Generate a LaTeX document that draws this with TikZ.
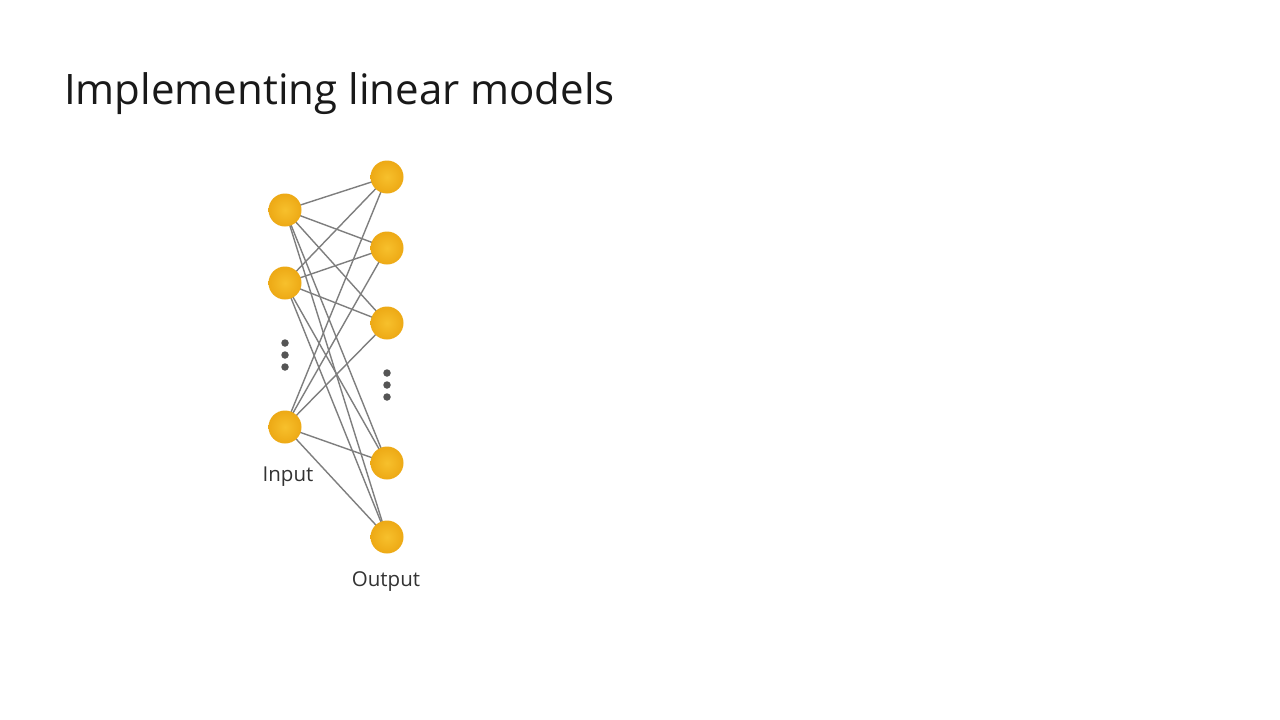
\documentclass[tikz,border=0pt]{standalone}
\usepackage{fontspec}
\setmainfont{Open Sans}
\begin{document}
\begin{tikzpicture}[x=1pt,y=-1pt,
  neuron/.style={circle,minimum size=33pt,inner sep=0pt,shade,inner color=ncolA,outer color=ncolB},
  conn/.style={draw=linegray,line width=1.4pt},
  dotmark/.style={circle,fill=dotgray,minimum size=7.5pt,inner sep=0pt},
  lbl/.style={text=labelgray,font=\fontsize{20.5}{24}\selectfont}]
\definecolor{ncolA}{HTML}{F7C02C}
\definecolor{ncolB}{HTML}{EDA915}
\definecolor{linegray}{HTML}{7E7E7E}
\definecolor{dotgray}{HTML}{555555}
\definecolor{labelgray}{HTML}{333333}
\useasboundingbox[fill=white] (0,0) rectangle (1280,720);
\node[anchor=base west,inner sep=0pt,font=\fontsize{42}{50}\selectfont,text=black!90] (title) at (64,104) {Implementing linear models};
% inputs
\coordinate (i1) at (285,210);
\coordinate (i2) at (285,283);
\coordinate (i3) at (285,427);
% outputs
\coordinate (o1) at (387,177);
\coordinate (o2) at (387,248);
\coordinate (o3) at (387,323);
\coordinate (o4) at (387,463);
\coordinate (o5) at (387,537);
\foreach \i in {1,2,3}{\foreach \o in {1,...,5}{\draw[conn] (i\i) -- (o\o);}}
\foreach \i in {1,2,3}{\node[neuron] (in\i) at (i\i) {};}
\foreach \o in {1,...,5}{\node[neuron] (out\o) at (o\o) {};}
\foreach \y [count=\k] in {343,355,367}{\node[dotmark] (da\k) at (285,\y) {};}
\foreach \y [count=\k] in {373,385,397}{\node[dotmark] (db\k) at (387,\y) {};}
\node[lbl,anchor=base] (inlbl) at (288,481) {Input};
\node[lbl,anchor=base] (outlbl) at (386,586) {Output};
\end{tikzpicture}
\end{document}
